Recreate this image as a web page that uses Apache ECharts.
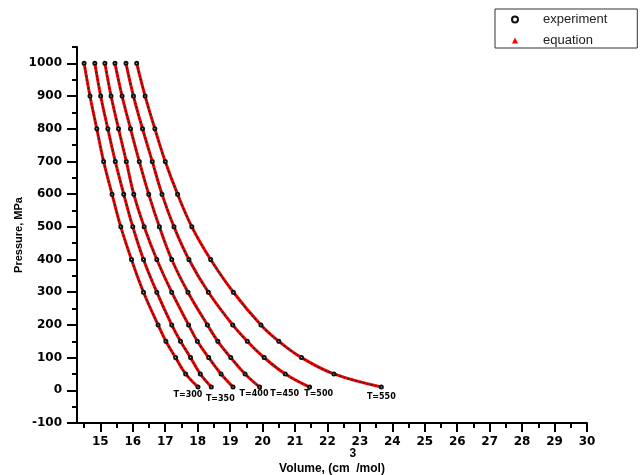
<!DOCTYPE html>
<html>
<head>
<meta charset="utf-8">
<title>Pressure vs Volume</title>
<script src="https://cdn.jsdelivr.net/npm/echarts@6/dist/echarts.min.js"></script>
<style>
  html, body { margin: 0; padding: 0; background: #fff; }
  #main { width: 641px; height: 475px; }
</style>
</head>
<body>
<div id="main"></div>
<script>
  // pressure levels (MPa), shared by all isotherms
  var pressure = [1000, 900, 800, 700, 600, 500, 400, 300, 200, 150, 100, 50, 10]

  // molar volume (cm3/mol)
  var v300 = [14.50, 14.68, 14.89, 15.10, 15.36, 15.63, 15.96, 16.33, 16.78, 17.02, 17.32, 17.63, 18.01]
  var v350 = [14.83, 15.01, 15.23, 15.46, 15.72, 16.00, 16.33, 16.74, 17.20, 17.47, 17.78, 18.08, 18.42]
  var v400 = [15.14, 15.33, 15.56, 15.80, 16.03, 16.35, 16.74, 17.20, 17.72, 17.99, 18.34, 18.72, 19.09]
  var v450 = [15.45, 15.67, 15.93, 16.20, 16.49, 16.82, 17.20, 17.70, 18.30, 18.62, 19.02, 19.46, 19.91]
  var v500 = [15.79, 16.02, 16.30, 16.60, 16.90, 17.27, 17.73, 18.33, 19.08, 19.53, 20.05, 20.70, 21.45]
  var v550 = [16.12, 16.38, 16.68, 17.00, 17.38, 17.82, 18.40, 19.10, 19.95, 20.50, 21.20, 22.20, 23.66]

  var tempLabels = ['T=300', 'T=350', 'T=400', 'T=450', 'T=500', 'T=550']
  var volumes = [v300, v350, v400, v450, v500, v550]

  // tick values
  var xMajorTicks = [15, 16, 17, 18, 19, 20, 21, 22, 23, 24, 25, 26, 27, 28, 29, 30]
  var xMinorTicks = [14.5, 15.5, 16.5, 17.5, 18.5, 19.5, 20.5, 21.5, 22.5, 23.5, 24.5, 25.5, 26.5, 27.5, 28.5, 29.5]
  var yMajorTicks = [-100, 0, 100, 200, 300, 400, 500, 600, 700, 800, 900, 1000]
  var yMinorTicks = [-50, 50, 150, 250, 350, 450, 550, 650, 750, 850, 950, 1050]

  // where each T= label sits relative to the curve's last point
  var labelOffsets = [[-10, 8], [9, 12], [21, 7], [25, 7], [9, 7], [0, 10]]

  var X_MIN = 14.28
  var X_MAX = 30
  var Y_MIN = -100
  var Y_MAX = 1050

  var tickFont = {
    color: '#000',
    fontFamily: 'DejaVu Sans',
    fontWeight: 'bold',
    fontSize: 12,
    formatter: function (v) { return String(v) }
  }

  function toPoints (vols) {
    return vols.map(function (v, i) { return [v, pressure[i]] })
  }

  function buildSeries () {
    var series = []
    volumes.forEach(function (vols, k) {
      var pts = toPoints(vols)
      series.push({
        name: 'equation',
        type: 'line',
        data: pts,
        smooth: 0.4,
        symbol: 'triangle',
        symbolSize: 4,
        itemStyle: {color: '#ff0000'},
        lineStyle: {color: '#ff0000', width: 3},
        z: 2
      })
      series.push({
        name: 'experiment',
        type: 'line',
        data: pts,
        smooth: 0.4,
        symbol: 'emptyCircle',
        symbolSize: 3,
        itemStyle: {color: '#111', borderWidth: 1},
        lineStyle: {color: '#222', width: 1.5, type: [2, 2]},
        label: {
          show: true,
          position: 'inside',
          offset: labelOffsets[k],
          color: '#000',
          fontFamily: 'DejaVu Sans',
          fontWeight: 'bold',
          fontSize: 8,
          formatter: function (p) {
            return p.dataIndex === pts.length - 1 ? tempLabels[k] : ''
          }
        },
        z: 3
      })
    })
    return series
  }

  var chart = echarts.init(document.getElementById('main'))
  chart.setOption({
    animation: false,
    backgroundColor: '#fff',
    grid: {left: 77, top: 47, width: 510, height: 376, containLabel: false, outerBoundsMode: 'none'},
    legend: {
      left: 495,
      top: 9,
      orient: 'vertical',
      padding: [4, 30, 1, 16],
      itemGap: 8,
      itemWidth: 6,
      itemHeight: 6,
      borderColor: '#333',
      borderWidth: 1,
      textStyle: {
        color: '#222',
        fontFamily: 'Liberation Sans',
        fontSize: 13,
        padding: [0, 0, 0, 20]
      },
      data: [
        {name: 'experiment', icon: 'emptyCircle', itemStyle: {color: '#111', borderColor: '#111', borderWidth: 1.2}},
        {name: 'equation', icon: 'triangle', itemStyle: {color: '#ff0000'}}
      ]
    },
    xAxis: [{
      type: 'value',
      min: X_MIN,
      max: X_MAX,
      name: 'Volume, (cm{s|3}/mol)',
      nameLocation: 'middle',
      nameGap: 25,
      nameMoveOverlap: false,
      nameTextStyle: {
        color: '#000',
        fontFamily: 'Liberation Sans',
        fontWeight: 'bold',
        fontSize: 12,
        rich: {
          s: {
            color: '#000',
            fontFamily: 'Liberation Sans',
            fontWeight: 'bold',
            fontSize: 12,
            padding: [0, 0, 30, 0]
          }
        }
      },
      axisLine: {show: true, onZero: false, lineStyle: {color: '#000', width: 2}},
      axisTick: {show: true, length: 9, customValues: xMajorTicks, lineStyle: {color: '#000', width: 2}},
      axisLabel: Object.assign({margin: 13, customValues: xMajorTicks}, tickFont),
      splitLine: {show: false}
    }, {
      type: 'value',
      min: X_MIN,
      max: X_MAX,
      position: 'bottom',
      gridIndex: 0,
      axisLine: {show: false, onZero: false},
      axisTick: {show: true, length: 5, customValues: xMinorTicks, lineStyle: {color: '#000', width: 2}},
      axisLabel: {show: false},
      splitLine: {show: false}
    }],
    yAxis: [{
      type: 'value',
      min: Y_MIN,
      max: Y_MAX,
      name: 'Pressure, MPa',
      nameLocation: 'middle',
      nameGap: 53,
      nameMoveOverlap: false,
      nameTextStyle: {
        color: '#000',
        fontFamily: 'Liberation Sans',
        fontWeight: 'bold',
        fontSize: 11
      },
      axisLine: {show: true, onZero: false, lineStyle: {color: '#000', width: 2}},
      axisTick: {show: true, length: 10, customValues: yMajorTicks, lineStyle: {color: '#000', width: 2}},
      axisLabel: Object.assign({margin: 15, customValues: yMajorTicks}, tickFont),
      splitLine: {show: false}
    }, {
      type: 'value',
      min: Y_MIN,
      max: Y_MAX,
      position: 'left',
      gridIndex: 0,
      axisLine: {show: false, onZero: false},
      axisTick: {show: true, length: 5, customValues: yMinorTicks, lineStyle: {color: '#000', width: 2}},
      axisLabel: {show: false},
      splitLine: {show: false}
    }],
    series: buildSeries()
  })
</script>
</body>
</html>
